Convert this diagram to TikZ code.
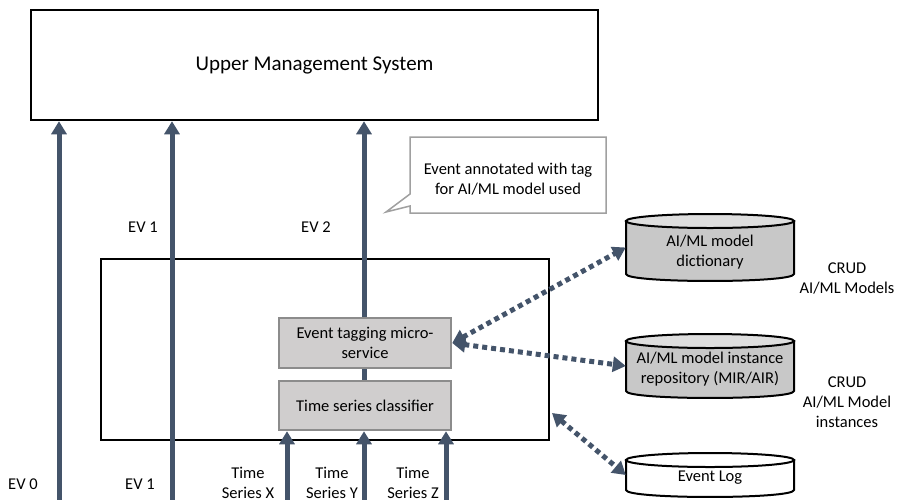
\documentclass[tikz,border=0pt]{standalone}
\usepackage{fontspec}
\setmainfont{Carlito}
\usetikzlibrary{arrows.meta}
\definecolor{arr}{HTML}{44546A}
\definecolor{boxfill}{HTML}{D0CECE}
\definecolor{boxline}{HTML}{8C8C8C}
\definecolor{cylbody}{HTML}{C8C8C8}
\definecolor{cyltop}{HTML}{DEDEDE}
\definecolor{calloutline}{HTML}{A0A0A0}
\begin{document}
\begin{tikzpicture}[x=1pt,y=-1pt,
  font=\fontsize{16.5}{20}\selectfont,
  solidarrow/.style={draw=arr, line width=5pt, -{Triangle[length=13pt,width=15pt]}},
  dotarrow/.style={draw=arr, line width=5pt, dash pattern=on 5pt off 4pt,
    {Triangle[length=13pt,width=15pt]}-{Triangle[length=13pt,width=15pt]}},
  graybox/.style={draw=boxline, line width=2.5pt, fill=boxfill, align=center, inner sep=0pt,
    minimum width=172pt},
  lbl/.style={align=center, inner sep=0pt},
  cylbox/.style={inner sep=0pt, minimum width=168pt},
  cylline/.style={draw=black, line width=2pt}]
\useasboundingbox (0,0) rectangle (899,499);
\fill[white] (0,0) rectangle (899,499);

% Upper management system
\node[draw, line width=2.5pt, minimum width=567pt, minimum height=110pt, inner sep=0pt,
  font=\fontsize{21}{25}\selectfont] (ums) at (314.5,65) {Upper Management System};

% main box
\node[draw, line width=2pt, minimum width=448pt, minimum height=181pt, inner sep=0pt] (mainbox) at (325,349.5) {};

% gray boxes
\node[graybox, minimum height=50pt] (tag) at (365,343) {Event tagging micro-\\service};
\node[graybox, minimum height=49pt] (cls) at (365,405.5) {Time series classifier};

% callout
\path[draw=calloutline, line width=1.5pt, fill=white]
  (410,137) -- (606,137) -- (606,213) -- (410,213) -- (410,206) -- (386,212) -- (410,194) -- cycle;
\node[lbl] (callout) at (508,179.5) {Event annotated with tag\\for AI/ML model used};

% cylinders
% dictionary: 626..794, 214..281
\path[cylline, fill=cylbody] (626,221) -- (626,274) .. controls (626,283.3) and (794,283.3) .. (794,274) -- (794,221) -- cycle;
\path[cylline, fill=cyltop] (710,221) ellipse[x radius=84pt, y radius=7pt];
\node[cylbox, minimum height=67pt] (dict) at (710,247.5) {};
\node[lbl] (dicttext) at (710,252) {AI/ML model\\dictionary};

% repository: 626..794, 334..398
\path[cylline, fill=cylbody] (626,341) -- (626,391) .. controls (626,400.3) and (794,400.3) .. (794,391) -- (794,341) -- cycle;
\path[cylline, fill=cyltop] (710,341) ellipse[x radius=84pt, y radius=7pt];
\node[cylbox, minimum height=64pt] (repo) at (710,366) {};
\node[lbl] (repotext) at (710,369.5) {AI/ML model instance\\repository (MIR/AIR)};

% event log: 626..794, 453..497
\path[cylline, fill=white] (626,460) -- (626,490) .. controls (626,499.3) and (794,499.3) .. (794,490) -- (794,460) -- cycle;
\path[cylline, fill=white] (710,460) ellipse[x radius=84pt, y radius=7pt];
\node[cylbox, minimum height=44pt] (elog) at (710,475) {};
\node[lbl] (elogtext) at (710,478) {Event Log};

% CRUD labels
\node[lbl] (crud1) at (847,278) {CRUD\\AI/ML Models};
\node[lbl] (crud2) at (847,402) {CRUD\\AI/ML Model\\instances};

% bottom coordinates
\coordinate (ev0) at (59,505);
\coordinate (ev1) at (172,505);
\coordinate (tsx) at (287,505);
\coordinate (tsy) at (364,505);
\coordinate (tsz) at (446,505);
\coordinate (elA) at (552,413);

% solid arrows
\draw[solidarrow] (ev0) -- (ev0 |- ums.south);
\draw[solidarrow] (ev1) -- (ev1 |- ums.south);
\draw[solidarrow] (tag.north -| tsy) -- (tsy |- ums.south);
\draw[draw=arr, line width=5pt] (tag.south -| tsy) -- (cls.north -| tsy);
\draw[solidarrow] (tsx) -- (tsx |- cls.south);
\draw[solidarrow] (tsy) -- (tsy |- cls.south);
\draw[solidarrow] (tsz) -- (tsz |- cls.south);

% dotted arrows
\draw[dotarrow] (tag.east) -- (dict.west);
\draw[dotarrow] (tag.east) -- (repo.west);
\draw[dotarrow] (elA) -- (elog.west);

% labels
\node[lbl] (ev1a) at (143,227) {EV 1};
\node[lbl] (ev2a) at (316,227) {EV 2};
\node[lbl] (ev0b) at (23,484) {EV 0};
\node[lbl] (ev1b) at (140,484) {EV 1};
\node[lbl] (tsxl) at (248,483) {Time\\Series X};
\node[lbl] (tsyl) at (332,483) {Time\\Series Y};
\node[lbl] (tszl) at (413,483) {Time\\Series Z};
\end{tikzpicture}
\end{document}
